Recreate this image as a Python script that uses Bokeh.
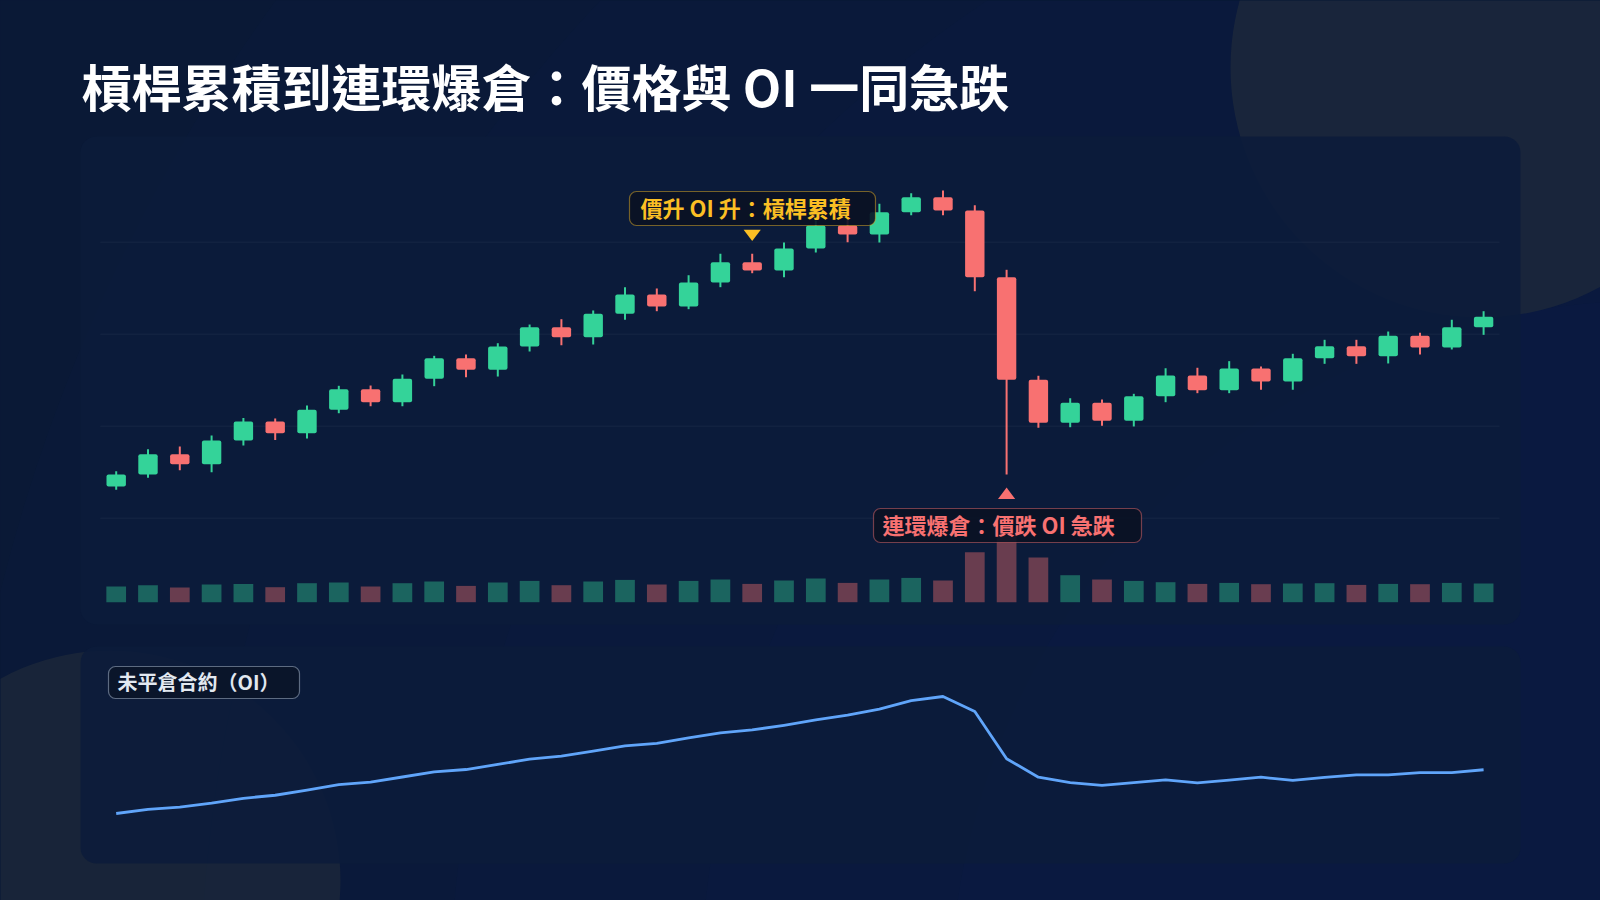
from bokeh.plotting import figure
from bokeh.models import Range1d, Label, ColumnDataSource
from bokeh.embed import file_html
from bokeh.resources import INLINE

# ---------------- data ----------------
opens = [103.45, 104.75, 106.96, 105.87, 108.45, 110.51, 109.24, 111.78, 114.02, 112.61,
         115.15, 117.39, 116.13, 118.66, 120.76, 119.67, 122.22, 124.32, 123.01, 125.62,
         127.83, 126.92, 129.32, 131.82, 130.84, 133.26, 134.89, 133.45, 126.20, 115.04,
         110.37, 112.54, 110.59, 113.26, 115.51, 113.91, 116.27, 114.86, 117.39, 118.70,
         117.61, 119.83, 118.55, 120.76]
highs = [105.10, 107.50, 107.80, 108.99, 110.90, 110.84, 112.25, 114.39, 114.42, 115.62,
         117.65, 117.79, 119.02, 121.05, 121.63, 122.58, 125.11, 124.97, 126.41, 128.74,
         128.74, 129.97, 132.36, 132.58, 134.17, 135.33, 135.62, 134.02, 127.00, 115.48,
         113.04, 112.90, 113.52, 116.30, 116.35, 117.07, 116.49, 117.87, 119.39, 119.39,
         120.29, 120.15, 121.57, 122.50]
lows = [103.10, 104.40, 105.20, 105.00, 107.90, 108.50, 108.66, 111.41, 112.17, 112.17,
        114.35, 115.33, 115.40, 118.12, 118.80, 118.88, 121.57, 122.50, 122.72, 125.11,
        126.63, 126.20, 128.88, 130.00, 129.97, 132.93, 132.93, 124.67, 104.75, 109.83,
        109.89, 110.04, 109.97, 112.61, 113.59, 113.59, 113.96, 113.96, 116.78, 116.78,
        116.82, 117.79, 118.34, 119.93]
closes = [104.75, 106.96, 105.87, 108.45, 110.51, 109.24, 111.78, 114.02, 112.61, 115.15,
          117.39, 116.13, 118.66, 120.76, 119.67, 122.22, 124.32, 123.01, 125.62, 127.83,
          126.92, 129.32, 131.82, 130.84, 133.26, 134.89, 133.45, 126.20, 115.04, 110.37,
          112.54, 110.59, 113.26, 115.51, 113.91, 116.27, 114.86, 117.39, 118.70, 117.61,
          119.83, 118.55, 120.76, 121.89]
volumes = [1.57, 1.70, 1.47, 1.77, 1.83, 1.50, 1.90, 1.97, 1.57, 1.90,
           2.07, 1.63, 1.97, 2.13, 1.70, 2.07, 2.23, 1.77, 2.13, 2.27,
           1.83, 2.17, 2.37, 1.93, 2.27, 2.43, 2.17, 5.00, 6.60, 4.47,
           2.70, 2.27, 2.13, 2.00, 1.83, 1.93, 1.80, 1.87, 1.90, 1.73,
           1.83, 1.80, 1.93, 1.87]
open_interest = [10.00, 10.18, 10.27, 10.44, 10.65, 10.78, 11.00, 11.23, 11.34, 11.56,
                 11.78, 11.88, 12.10, 12.32, 12.45, 12.67, 12.89, 13.00, 13.23, 13.45,
                 13.57, 13.77, 14.00, 14.20, 14.46, 14.82, 15.00, 14.36, 12.34, 11.55,
                 11.32, 11.20, 11.32, 11.44, 11.31, 11.43, 11.55, 11.42, 11.54, 11.65,
                 11.65, 11.75, 11.75, 11.87]
price_grid = [100, 110, 120, 130]

title_text = "槓桿累積到連環爆倉：價格與 OI 一同急跌"
ann_up_text = "價升 OI 升：槓桿累積"
ann_down_text = "連環爆倉：價跌 OI 急跌"
oi_label_text = "未平倉合約（OI）"
ann_up_idx = 20
ann_down_idx = 28

# ---------------- style ----------------
BG = "#0a1936"
GREEN = "#34d399"
RED = "#f87171"
AMBER = "#fbbf24"
BLUE = "#60a5fa"
FONT = "Noto Sans CJK TC"

W, H = 1600, 900
LX, LY = 1600.0, 900.0          # layout units (page design coordinates)

# scale definitions (where each data range sits inside the layout)
X0, DX = 115.7, 31.8            # candle index 0 position and step
PY100, PPU = 517.7, 9.2         # price 100 position, px per price unit
VBASE, VPPU = 601.7, 10.0       # volume baseline, px per volume unit
OBASE, OPPU = 813.0, 23.4       # OI 10 position, px per OI unit

p = figure(width=W, height=H,
           x_range=Range1d(0, LX), y_range=Range1d(LY, 0),
           x_axis_type=None, y_axis_type=None,
           toolbar_location=None, output_backend="svg",
           min_border=0, outline_line_color=None,
           background_fill_color=BG, border_fill_color=BG)

p.extra_x_ranges = {"idx": Range1d(-X0 / DX, (LX - X0) / DX)}
p.extra_y_ranges = {
    "price": Range1d(100 - (LY - PY100) / PPU, 100 + PY100 / PPU),
    "vol": Range1d(-(LY - VBASE) / VPPU, VBASE / VPPU),
    "oi": Range1d(10 - (LY - OBASE) / OPPU, 10 + OBASE / OPPU),
}

# ---------------- background decoration ----------------
for r in [1700, 1450, 1200, 950, 700]:
    p.circle(x=[1650], y=[1000], radius=r, fill_color="#13307a",
             fill_alpha=0.045, line_color=None)
p.circle(x=[1480], y=[67], radius=250, fill_color="#1e293b",
         fill_alpha=0.78, line_color=None)
p.circle(x=[110], y=[880], radius=230, fill_color="#1e293b",
         fill_alpha=0.7, line_color=None)

# panels
p.quad(left=[80, 80], right=[1520, 1520], top=[136, 646], bottom=[624, 863],
       fill_color="#0b1b3a", fill_alpha=0.88, line_color=None, border_radius=16)

# ---------------- price gridlines ----------------
p.segment(x0=[-0.5] * len(price_grid), x1=[len(closes) - 0.5] * len(price_grid),
          y0=price_grid, y1=price_grid, line_color="#ffffff", line_alpha=0.05,
          line_width=1, x_range_name="idx", y_range_name="price")

# ---------------- candles & volume ----------------
idx = list(range(len(closes)))
colors = [GREEN if c >= o else RED for o, c in zip(opens, closes)]
src = ColumnDataSource(dict(
    x=idx, open=opens, high=highs, low=lows, close=closes,
    top=[max(o, c) for o, c in zip(opens, closes)],
    bottom=[min(o, c) for o, c in zip(opens, closes)],
    vol=volumes, color=colors, oi=open_interest))

p.vbar(x="x", top="vol", bottom=0, width=0.62, fill_color="color", fill_alpha=0.4,
       line_color=None, source=src, x_range_name="idx", y_range_name="vol")
p.segment(x0="x", x1="x", y0="high", y1="low", line_color="color", line_width=2,
          source=src, x_range_name="idx", y_range_name="price")
p.vbar(x="x", top="top", bottom="bottom", width=0.61, fill_color="color",
       line_color=None, border_radius=2, source=src,
       x_range_name="idx", y_range_name="price")

# ---------------- OI line ----------------
p.line(x="x", y="oi", line_color=BLUE, line_width=2.8, line_join="round",
       source=src, x_range_name="idx", y_range_name="oi")

# ---------------- annotations ----------------
p.quad(left=[629], right=[875], top=[191], bottom=[225], fill_color="#0a1224",
       fill_alpha=0.9, line_color=AMBER, line_alpha=0.45, line_width=1.2,
       border_radius=7)
p.quad(left=[873], right=[1141], top=[508], bottom=[542], fill_color="#0a1224",
       fill_alpha=0.9, line_color=RED, line_alpha=0.45, line_width=1.2,
       border_radius=7)
p.quad(left=[108], right=[299], top=[666], bottom=[698], fill_color="#0a1224",
       fill_alpha=0.7, line_color="#94a3b8", line_alpha=0.6, line_width=1.2,
       border_radius=7)

# triangles pointing at the annotated candles
hu = highs[ann_up_idx] + 1.4
ld = lows[ann_down_idx] - 1.4
p.patches(xs=[[ann_up_idx - 0.27, ann_up_idx + 0.27, ann_up_idx],
              [ann_down_idx - 0.27, ann_down_idx + 0.27, ann_down_idx]],
          ys=[[hu + 1.2, hu + 1.2, hu], [ld - 1.25, ld - 1.25, ld]],
          fill_color=[AMBER, RED], line_color=None,
          x_range_name="idx", y_range_name="price")

labels = [
    Label(x=81, y=84, text=title_text, text_font=FONT, text_font_size="50px",
          text_font_style="bold", text_color="#ffffff", text_baseline="middle"),
    Label(x=640, y=206.5, text=ann_up_text, text_font=FONT, text_font_size="22px",
          text_font_style="bold", text_color=AMBER, text_baseline="middle"),
    Label(x=882, y=523.5, text=ann_down_text, text_font=FONT, text_font_size="22px",
          text_font_style="bold", text_color=RED, text_baseline="middle"),
    Label(x=117, y=681, text=oi_label_text, text_font=FONT, text_font_size="20px",
          text_font_style="bold", text_color="#e2e8f0", text_baseline="middle"),
]
for lb in labels:
    p.add_layout(lb)

html = file_html(p, INLINE)
css = ("<style>html, body { margin: 0; padding: 0; overflow: hidden; "
       "background-color: %s; }</style></head>" % BG)
html = html.replace("</head>", css, 1)
open("out.html", "w").write(html)
